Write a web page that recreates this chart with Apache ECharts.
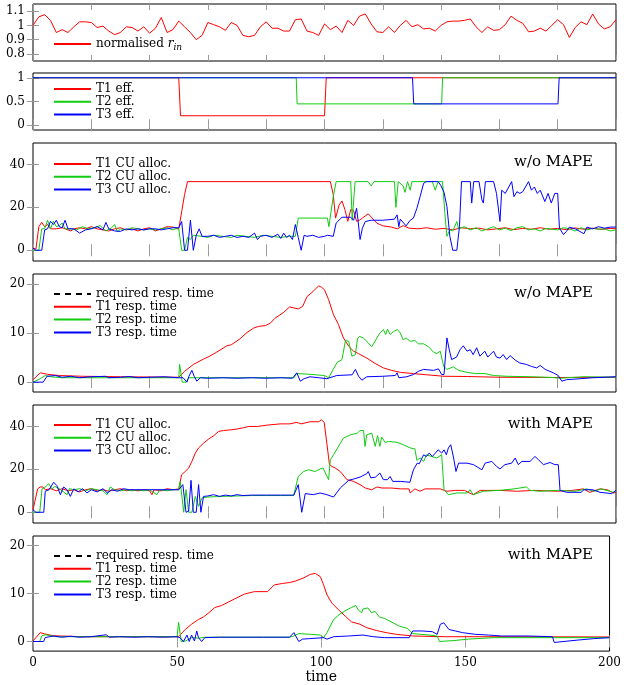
<!DOCTYPE html>
<html><head><meta charset="utf-8">
<script src="https://cdn.jsdelivr.net/npm/echarts@6/dist/echarts.min.js"></script>
<style>html,body{margin:0;padding:0;background:#fff}#c{width:624px;height:685px}</style>
</head><body><div id="c"></div>
<script>
// ---------- DATA ----------
const rInStep = 2; // normalised r_in sampled every 2 time units from 0 to 200
const rIn = [1.0,1.06,1.075,1.035,0.95,0.97,0.95,0.99,1.025,1.025,1.02,0.985,0.995,0.96,0.935,0.95,0.99,0.985,0.96,0.99,
0.945,0.98,1.055,0.95,0.97,1.03,0.99,0.95,0.9,0.93,1.02,1.005,0.99,0.965,1.02,1.0,0.93,0.92,0.93,0.99,
1.025,0.98,0.98,0.96,0.96,1.04,1.045,0.96,0.95,0.93,1.01,0.97,0.995,0.95,1.035,1.0,1.065,1.08,1.01,0.955,
0.95,0.99,0.95,1.0,1.035,0.99,1.005,0.975,0.98,0.96,1.0,1.025,1.03,1.03,1.035,1.045,0.99,0.95,0.99,0.965,
0.97,1.005,1.065,1.035,1.015,0.955,0.96,0.98,0.96,1.0,1.04,1.005,0.915,0.985,1.025,1.005,1.08,1.01,0.975,0.99,1.04];

const t1Eff = [[0,1],[50,1],[50.6,0.2],[100,0.2],[100.6,1],[200,1]];
const t2Eff = [[0,1],[90.3,1],[90.6,0.45],[140.2,0.45],[140.5,1],[200,1]];
const t3Eff = [[0,1],[130.2,1],[130.6,0.45],[180.1,0.45],[180.5,1],[200,1]];

const t1AllocNo = [[0,1],[1,0.5],[2,11],[3,13],[4,11],[5,12],[6,10],[8,10],[10,10.5],[12,9.5],[13,9],[14,10],[16,10.5],[18,10],[20,11],[22,10],[24,9.5],[26,9],[28,10],[30,10.5],[32,9.5],[34,10],[36,9],[38,10],[40,10.5],[42,9],[44,10],[46,11],[48,10.8],[50,10],[51,18],[52,26],[53,32],[102,32],[103,26],[103.8,15],[105,21],[106,23],[107,19],[108,13.5],[109,19],[110,18.5],[111,13.5],[112,14],[113,15],[115,17],[116,15.5],[118,12.6],[120,11.4],[123,10.8],[125,10],[127,11.5],[129,10.3],[132,10],[135,10.5],[138,9.8],[141,10.2],[144,9.5],[147,10.5],[150,10],[153,10.3],[156,9.5],[159,10],[162,10.5],[165,9.6],[168,10.2],[171,9.8],[174,10.5],[177,9.8],[180,10.2],[183,9.6],[186,10.4],[189,9.8],[192,10.3],[195,9.7],[198,10.2],[200,10]];
const t2AllocNo = [[0,0],[2,0],[3,10],[4,10],[5,14],[6,10],[7,13.5],[8,11],[9,11.5],[10,12.7],[11,10],[13,10],[15,9.5],[17,11],[19,10],[21,10.5],[23,11.5],[25,9],[27,10.5],[28,12],[29,8.5],[30,10],[32,9.5],[34,10.5],[36,10],[38,9.5],[40,10],[42,9.5],[44,10],[46,10.5],[48,9.5],[49,10],[50,10],[51,0],[52,0],[53,6],[54,5],[55,7],[58,6.5],[60,6],[62,7],[65,6.5],[68,6],[70,7],[73,6.5],[76,6],[79,7],[82,6.5],[85,6],[88,6.5],[90,6.5],[91,15],[101,15],[101.5,11],[103,25],[104,32],[109,32],[109.5,14],[110.5,32],[115,32],[116,30],[117,32],[124,32],[124.5,20],[125.3,32],[127,30],[127.6,27],[128.5,32],[129.4,28],[130,32],[137,32],[138,28],[139,32],[140.5,32],[141.3,17],[142,6.5],[143,9.5],[144,9],[145.4,13.4],[146,10],[148,11],[150,9.5],[152,10.5],[154,9],[156,10],[158,11],[160,9.5],[162,10.3],[164,9.2],[166,10.5],[168,11],[170,9.5],[172,10],[174,9],[176,10.2],[178,9.8],[180,9.5],[182,10.5],[184,10],[186,9],[188,10.5],[190,9.5],[192,10.2],[194,9.8],[196,10],[198,9],[200,9.5]];
const t3AllocNo = [[0,1],[1,0],[3,0],[4,9.5],[5,10],[6,13.5],[7,12],[8,14],[9,11],[10,10.5],[11,14],[12,10],[14,10],[16,8],[18,9.5],[20,10],[22,11],[24,9.5],[25,13],[26,10],[28,9],[30,8.8],[32,10],[34,9.5],[36,10],[38,9.5],[40,10],[42,10],[44,9.5],[46,10],[48,10.5],[50,10.5],[51,13.4],[52,0],[53,0],[54,14],[55,0],[56,7],[57,10],[58,6.5],[60,6.5],[62,7],[64,6],[66,6.5],[68,7],[70,6],[72,6.5],[74,6],[76,8],[77,5],[78,6.5],[80,7],[82,6],[84,7.5],[85,5.5],[86,8],[87,6],[88,7],[89,5],[90,12],[91,6],[92,0],[93,7],[94,6.5],[96,7],[98,6],[100,6.5],[101,7],[103,6.5],[104,12.7],[106,15.4],[109,15.4],[110,14],[111,19.6],[111.5,14],[112.2,5],[113,10.3],[114,13.4],[116,14],[120,14],[124,14.5],[124.9,16.5],[125.5,11],[126,14.5],[128,11.4],[129.4,14],[130.5,15],[131.7,19.6],[132.8,25],[134,31.2],[135,32],[139,32],[140,30],[141,27],[142,20.4],[143,6.5],[144,0],[145.4,0],[146.3,11],[147,32],[150,32],[150.5,22],[151.2,32],[153,32],[154,23.5],[154.5,22],[155.2,32],[158,32],[159,26.5],[160.2,13.4],[160.8,28],[162,26.5],[163,29],[164.2,32],[165,25],[166,27.3],[167,26.5],[168,27.3],[170,32],[171,28],[172,29.5],[173,26.5],[174,28],[175.6,22.7],[176.7,26.5],[177.8,22],[179,26.5],[180,26.5],[180.6,10.3],[182,7.3],[183,8.8],[184,10.8],[186,10],[189,7.7],[190,10.8],[192,10],[194,11],[196,10.3],[198,10.8],[200,10.8]];

const reqRespNo = [];
const t1RespNo = [[0,0.5],[2.5,1.9],[5,1.6],[9,1.35],[17,1.2],[30,1.1],[50,1.0],[52,2.2],[55,3.6],[58.5,4.7],[60,5.1],[63,6.1],[66.5,7.4],[68,7.6],[71,8.8],[73.4,10.1],[75.7,11],[77.4,11.35],[79.7,11.5],[81.4,12],[83,13],[86,14.2],[88,15.3],[89.5,15.1],[91,14.9],[92.5,15.4],[94,17.4],[96,18.4],[98,19.6],[99,19.3],[100,18.8],[101.4,16.8],[103.1,13.7],[104.8,11.7],[106.5,9],[108.3,7.3],[110,6.3],[111.7,5.8],[114.5,4.9],[117.4,3.8],[120.2,2.9],[123,2.4],[126,2.0],[130.5,1.75],[135,1.5],[141,1.2],[149,1.15],[160,1.0],[180,0.95],[200,1.0]];
const t2RespNo = [[0,0],[2.5,0.7],[4.2,1.35],[6,1.1],[10,0.9],[50,0.9],[50.3,3.6],[51.2,0],[52.5,0],[53.4,0.9],[89.5,0.9],[90.5,1.75],[95,1.6],[100,1.35],[101.4,0.9],[103,2.6],[104.3,4],[106,4.6],[107.2,8.5],[108.3,8.3],[108.9,8],[109.4,5.3],[110.6,5.6],[111.3,8.8],[112,9.3],[113.3,9],[115,8],[116.2,7.2],[118,9],[119,10],[120.2,10.7],[121,9.7],[121.6,10.8],[122.5,9.7],[123.7,10.3],[125,10.7],[126,10],[127,8.6],[128,9],[129.4,8.3],[131,8.5],[132.2,7.8],[134,7.8],[135.7,7.2],[137.4,6.1],[138.5,5.8],[139.7,6.3],[140.9,3.2],[142,2.6],[144.2,3.1],[146,2.4],[148.9,2],[151.7,1.75],[155,1.75],[158,1.35],[162.5,1.2],[171,1.1],[178,0.95],[180.8,0.8],[189,1.1],[200,1.0]];
const t3RespNo = [[0,0],[3.5,0],[4.8,1.2],[7.7,1.35],[10,1.0],[13,1.2],[16,0.9],[20,1.1],[25,1.2],[26,0.9],[30,1.0],[33,1.15],[36,0.9],[40,1.0],[45,1.1],[50,0.9],[51.5,0.9],[52.8,0],[53.5,1.2],[54.5,2.4],[55.3,1.2],[56.2,0.2],[57.4,0.9],[60,0.8],[65,0.9],[70,0.8],[75,0.9],[80,0.8],[85,0.9],[89,0.8],[90.5,1.9],[91.7,0.2],[93,0.7],[95,1.1],[98,0.9],[100.8,0.7],[104.2,1.35],[109.5,1.5],[110.6,2.6],[111.7,1.2],[112.8,0.4],[114.5,1.1],[120,1.2],[124.3,1.35],[124.9,1.9],[125.5,0.9],[128.2,1.1],[130.5,1.55],[132.2,2.2],[134,2.6],[137.4,2.4],[139.1,2.7],[140.2,1.55],[141,1.55],[142,9],[142.8,6.6],[143.6,4.6],[145.3,5.1],[146.5,6.6],[147.6,7.4],[148.9,6.3],[150,6.6],[151,5.6],[152.2,7],[153.3,5.3],[155,6.3],[156,5.1],[158,6.3],[159,5.1],[160.2,4.9],[161.3,5.6],[162.5,4.6],[163.7,5.4],[165.4,4.5],[167,3.9],[169.3,3.6],[171,3.2],[172.8,2.9],[174,3.4],[175.7,2.6],[178.5,1.9],[180.2,1.35],[181.4,0.2],[183,0.5],[187.6,0.7],[192,0.9],[200,1.1]];

const t1AllocMape = [[0,1.2],[1.6,10.9],[2.5,11.8],[3.4,11.8],[4.2,10.5],[6,11],[8,10],[10,11],[12,10],[14,10.5],[16,9.5],[18,10.5],[20,11],[22,10],[24,10.5],[26,9.8],[28,10.5],[30,11],[32,10],[34,10.5],[36,10],[38,10.5],[40,10],[40.8,8.2],[41.5,10.5],[44,10],[46,11],[48,10.5],[50,10.9],[51,17.5],[52.2,19],[53.4,20.6],[54.5,23.7],[55.7,27.6],[56.8,30],[58.5,32.2],[60.2,34.1],[62,35.7],[63.7,37.7],[65.4,38.1],[67.7,38.4],[70,38.8],[72.2,39.4],[74,40],[77,40],[80.2,40.6],[84.8,41.2],[88,41.2],[90.5,41.9],[92,41.2],[95,42.2],[98,42.2],[99,43.1],[99.9,41.9],[100.8,32.2],[101.7,22.2],[102.5,21.4],[103.7,20.6],[105.4,19],[107.7,15.2],[110,14.4],[112.2,12.9],[114,11.3],[116.2,10.5],[118,11.8],[119.7,11.3],[123,11.3],[126,10.9],[129,10.9],[129.4,9],[131,10.9],[132.8,9.8],[134.5,10.9],[139.7,10.9],[142,9.8],[145,10.2],[148,10.2],[151,8.2],[153.4,10.2],[160,10.2],[166,9.8],[172,10.2],[180,9.8],[185,10.2],[188.8,10.9],[191,9.3],[194.5,10.9],[197,10.5],[199.1,9],[200,9.3]];
const t2AllocMape = [[0,0],[2.3,0],[3.1,10.9],[4,11.5],[5.4,13.3],[6.5,10.9],[7.5,12],[9,11],[11.7,8.2],[12.5,11],[14,10.5],[16,11],[18,10],[20,11],[22,10.5],[24,10],[25.4,8.2],[26.5,11.8],[28,10.5],[30,10],[32,10.5],[34,10],[36,10.5],[38,10],[40,10.5],[42.5,8.2],[43.5,10.5],[46,10],[48,10.5],[50,10.5],[50.5,14.4],[51.7,0],[52.5,10.5],[53.4,0],[54.5,0],[55.7,7.4],[56.8,2.8],[58,6.7],[60,7.1],[65,7.4],[70,7.6],[75,7.8],[80,7.8],[85,7.8],[89.4,7.8],[91,16.7],[92.8,19],[94.5,19.8],[96.8,19],[98.5,20.2],[99.5,20.6],[101.4,15.2],[102,24.5],[103.1,26.8],[104.8,30.7],[106.5,34.6],[108.9,36.1],[111.3,36.9],[112.2,38.1],[113.4,38.1],[113.9,30.7],[114.5,36.1],[116.2,36.9],[117.4,30.7],[118.2,35.7],[119,30.7],[119.6,35],[120.8,32.6],[122,33],[124.9,32.6],[127,31.5],[129.4,30],[131,29.5],[131.7,24.2],[132.8,25.3],[134,23.7],[135,26.8],[136.7,26],[138.5,25.3],[140.2,26.8],[141,10.5],[142.5,8.2],[145.4,9],[149,9],[149.9,10.5],[151,8.2],[154.5,9.8],[160,10.2],[165,10.9],[169.3,11.8],[170.5,10.2],[173.9,9.8],[180,10.2],[186,9.8],[190,10.9],[192.5,9.8],[195,10.9],[199.1,9.3],[200,10]];
const t3AllocMape = [[0,1.2],[1,0],[3.7,0],[4.2,9.8],[5.5,10.5],[7.1,14],[8.2,12.4],[9.4,8.2],[10.5,11.8],[11.7,10.5],[12.8,7.4],[14,10.9],[15.5,9.5],[17,11],[18.5,9],[20,10.5],[22,9.5],[24,11],[25.5,9],[27,10.5],[29,9.8],[31,11],[33,10.5],[40,10.5],[50,10.5],[51.4,12.9],[52.5,0],[53.4,0.5],[54.2,14.9],[55,0],[56,0],[56.8,12.9],[57.6,0],[58.5,7.4],[60,7.6],[62,8.2],[64,7.4],[66,8],[68,7.6],[70,8.2],[72,7.8],[75,8],[80,8],[85,8],[89.5,8],[91,12.9],[92.2,0],[93.4,8.7],[96.2,8.2],[98.5,9],[100.8,8.2],[103.1,7.1],[105.4,11.3],[108.3,14.9],[110,15.5],[112.2,16.4],[114.5,18],[115,19],[115.9,16],[117.5,16.4],[119,18.3],[120.2,15.2],[121.6,15.2],[122.5,16.7],[123.4,14.4],[126,14.4],[129.3,14],[130.5,19.8],[131.8,22.9],[132.5,22.6],[134,26.8],[135,26],[135.9,27.6],[137,26],[139,29.1],[140.2,27.6],[141,29.1],[141.8,26.8],[142.5,30],[143.3,31.5],[144.3,25.3],[145.1,19],[146,22.9],[148.9,22.9],[151.1,22.2],[154,19.8],[155.1,22.9],[157.4,23.7],[159,21.4],[160.2,20.2],[161.9,22.2],[164.2,22.9],[165.4,25.3],[166.5,22.2],[167.7,23.7],[170.5,23.7],[172.2,26],[173.4,24.5],[175.1,22.2],[177.4,23.2],[179,22.2],[180.2,22.2],[180.8,10.2],[183.1,9.3],[188,9.3],[189,10.5],[192,10.5],[194.5,9.3],[198.5,8.7],[200,10.2]];

const reqRespMape = [];
const t1RespMape = [[0,0.1],[2.5,1.85],[4,1.6],[7,1.2],[17.4,1.0],[50.5,1.0],[52.8,2.5],[55,3.6],[57.4,4.6],[59.1,5.1],[61.4,6.2],[63.1,7.1],[65.4,7.5],[67.7,8.2],[70,8.9],[73.4,9.9],[76.8,10.4],[81.4,10.4],[83.7,11.8],[86.5,12.1],[89,12.3],[91,12.6],[94,13.3],[96.2,14],[97.9,14.2],[99.7,13.5],[100.8,11.8],[102,9.7],[103.7,8],[106,6.6],[108.3,5.3],[110.5,4.1],[113.4,3.6],[115.7,2.9],[119.1,2.3],[122.5,1.85],[126,1.5],[131.7,1.15],[143,1.0],[160,1.0],[200,0.95]];
const t2RespMape = [[0,0],[2.3,0],[3.1,1.2],[4.2,1.4],[8,1.0],[50,1.0],[50.5,4],[51.4,0],[53,0.1],[54,0.5],[55,0.8],[57.5,0.7],[60,0.9],[89,0.9],[90.5,1.15],[92.2,1.65],[96.2,1.5],[99.7,1.35],[100.8,0.8],[102,1.85],[103.1,3.2],[104.3,4.6],[106.5,5.75],[108.9,6.6],[110.5,7.1],[112,7.5],[112.8,6.6],[114,6],[114.5,6.8],[116.2,7],[117.4,6],[118.6,6.3],[120.2,5.1],[122,4.8],[124.9,3.9],[127.1,3.2],[130,2.7],[131.7,1.65],[134.5,1.5],[137.4,1.35],[140.2,1.15],[141,0],[146,0.2],[151,0.5],[160,0.8],[200,0.8]];
const t3RespMape = [[0,0],[3.7,0],[4.2,0.8],[7,1.15],[10,0.9],[13,1.1],[16,0.9],[20,1.0],[25.4,1.4],[26.5,0.9],[30,1.0],[35,0.9],[40,1.0],[45,0.9],[50,1.0],[51,0.8],[52.2,0],[53.4,1.35],[54.2,0],[55,1.35],[56,0.1],[56.8,2.2],[57.4,0.8],[58.5,0],[59.6,0.8],[65,0.9],[70,0.9],[80,0.9],[89,0.9],[90.5,1.85],[92.2,0],[93.5,0.5],[96,0.6],[100.8,0.8],[102,0.5],[104.3,1.0],[109.5,1.15],[114.5,1.35],[115.1,1.15],[118,1.0],[122,0.8],[130.5,0.8],[131.7,2.2],[135,2.2],[138.5,2.05],[140.2,1.5],[141.3,3.6],[142.5,3.9],[144.3,2.5],[146.5,2.2],[149,1.85],[153.4,1.5],[158,1.35],[162.5,1.15],[171.7,1.15],[180.2,1.0],[180.8,-0.2],[189,0.3],[194.5,0.6],[200,0.8]];

// tick values
const rInTicks = [0.8, 0.9, 1, 1.1];
const effTicks = [0, 0.5, 1];
const allocTicks = [0, 20, 40];
const respTicks = [0, 10, 20];
const timeLabelTicks = [0, 50, 100, 150, 200];
const panelTitles = ['', '', 'w/o MAPE', 'w/o MAPE', 'with MAPE', 'with MAPE'];

// ---------- CHART ----------
const RED = '#ff0000', GREEN = '#10cc10', BLUE = '#0000ff', BLACK = '#000000';
const FONT = 'DejaVu Serif';
const tickColor = '#9a9a9a';

const layout = [
  {top: 4, h: 57, min: 0.75, max: 1.15, ticks: rInTicks},
  {top: 73, h: 57, min: -0.1, max: 1.1, ticks: effTicks},
  {top: 143, h: 118, min: -5, max: 50, ticks: allocTicks},
  {top: 274, h: 118, min: -2, max: 22, ticks: respTicks},
  {top: 405, h: 118, min: -5, max: 50, ticks: allocTicks},
  {top: 536, h: 118, min: -2, max: 22, ticks: respTicks}
];

const grids = [], xAxes = [], yAxes = [];
layout.forEach((p, i) => {
  const last = i === layout.length - 1;
  grids.push({left: 33, width: 583, top: p.top, height: p.h, show: true, borderColor: '#000', borderWidth: 1, backgroundColor: 'transparent'});
  const xBase = {type: 'value', gridIndex: i, min: 0, max: 200, interval: last ? 50 : 20,
    axisLine: {show: false}, splitLine: {show: false},
    axisTick: {inside: true, length: 6, lineStyle: {color: tickColor}}};
  xAxes.push(Object.assign({}, xBase, {position: 'bottom',
    axisLabel: {show: last, fontFamily: FONT, fontSize: 12, color: '#000', margin: 6},
    name: last ? 'time' : '', nameLocation: 'middle', nameGap: 16,
    nameTextStyle: {fontFamily: FONT, fontSize: 14, color: '#000'}}));
  xAxes.push(Object.assign({}, xBase, {position: 'top', axisLabel: {show: false}}));
  const yBase = {type: 'value', gridIndex: i, min: p.min, max: p.max,
    axisLine: {show: false}, splitLine: {show: false},
    axisTick: {inside: true, length: 6, lineStyle: {color: tickColor}, customValues: p.ticks}};
  yAxes.push(Object.assign({}, yBase, {position: 'left',
    axisLabel: {customValues: p.ticks, fontFamily: FONT, fontSize: 12, color: '#000', margin: 8}}));
  yAxes.push(Object.assign({}, yBase, {position: 'right', axisLabel: {show: false}}));
});

function line(name, data, color, gi, dashed) {
  return {type: 'line', name: name, data: data, xAxisIndex: 2 * gi, yAxisIndex: 2 * gi,
    symbol: 'none', showSymbol: false, animation: false, clip: true,
    lineStyle: {width: 1, color: color, type: dashed ? [6, 5] : 'solid'},
    itemStyle: {color: color}};
}

const series = [
  line('normalised r_in', rIn.map((v, i) => [i * rInStep, v]), RED, 0),
  line('T1 eff.', t1Eff, RED, 1), line('T2 eff.', t2Eff, GREEN, 1), line('T3 eff.', t3Eff, BLUE, 1),
  line('T1 CU alloc.', t1AllocNo, RED, 2), line('T2 CU alloc.', t2AllocNo, GREEN, 2), line('T3 CU alloc.', t3AllocNo, BLUE, 2),
  line('required resp. time', reqRespNo, BLACK, 3, true), line('T1 resp. time', t1RespNo, RED, 3),
  line('T2 resp. time', t2RespNo, GREEN, 3), line('T3 resp. time', t3RespNo, BLUE, 3),
  line('T1 CU alloc.', t1AllocMape, RED, 4), line('T2 CU alloc.', t2AllocMape, GREEN, 4), line('T3 CU alloc.', t3AllocMape, BLUE, 4),
  line('required resp. time', reqRespMape, BLACK, 5, true), line('T1 resp. time', t1RespMape, RED, 5),
  line('T2 resp. time', t2RespMape, GREEN, 5), line('T3 resp. time', t3RespMape, BLUE, 5)
];

function legend(names, top, extra) {
  return Object.assign({orient: 'vertical', left: 53, top: top, padding: 0, itemWidth: 37, itemHeight: 12, itemGap: 0.8,
    selectedMode: false, data: names,
    itemStyle: {opacity: 0},
    textStyle: {fontFamily: FONT, fontSize: 12, color: '#000'}}, extra || {});
}

const legends = [
  legend(['normalised r_in'], 38, {
    formatter: () => '{n|normalised }{it|r}{sub|in}',
    textStyle: {fontFamily: FONT, fontSize: 12, color: '#000', rich: {
      n: {fontFamily: FONT, fontSize: 12, color: '#000', lineHeight: 16, verticalAlign: 'middle'},
      it: {fontFamily: FONT, fontSize: 12, fontStyle: 'italic', color: '#000', lineHeight: 16, verticalAlign: 'middle'},
      sub: {fontFamily: FONT, fontSize: 9, fontStyle: 'italic', color: '#000', lineHeight: 10, verticalAlign: 'bottom'}}}
  }),
  legend(['T1 eff.', 'T2 eff.', 'T3 eff.'], 83),
  legend(['T1 CU alloc.', 'T2 CU alloc.', 'T3 CU alloc.'], 158),
  legend(['required resp. time', 'T1 resp. time', 'T2 resp. time', 'T3 resp. time'], 288),
  legend(['T1 CU alloc.', 'T2 CU alloc.', 'T3 CU alloc.'], 419),
  legend(['required resp. time', 'T1 resp. time', 'T2 resp. time', 'T3 resp. time'], 550)
];

const titles = [];
panelTitles.forEach((t, i) => {
  if (!t) return;
  titles.push({text: t, right: 31, top: layout[i].top + 12, padding: 0,
    textStyle: {fontFamily: FONT, fontSize: 15, fontWeight: 'normal', color: '#000'}});
});

const chart = echarts.init(document.getElementById('c'), null, {renderer: 'canvas'});
chart.setOption({
  animation: false,
  backgroundColor: '#fff',
  title: titles,
  grid: grids, xAxis: xAxes, yAxis: yAxes,
  legend: legends,
  series: series
});
</script></body></html>
